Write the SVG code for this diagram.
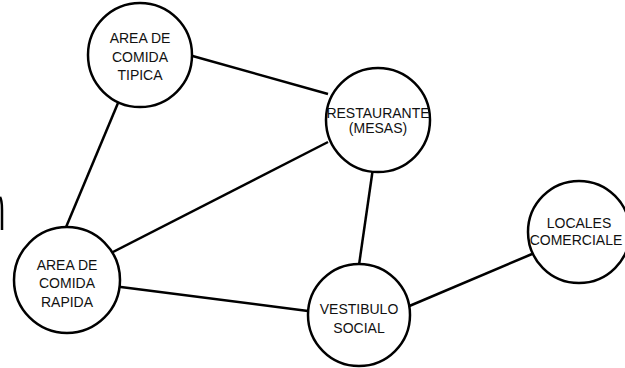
<svg xmlns="http://www.w3.org/2000/svg" width="625" height="368" viewBox="0 0 625 368">
<style>
.n{fill:#fff;stroke:#000;stroke-width:2.5}
.e{stroke:#000;stroke-width:2.5;fill:none}
text{font-family:"Liberation Sans",Arial,sans-serif;font-size:14px;fill:#111;text-anchor:middle}
</style>
<rect width="625" height="368" fill="#fff"/>
<g id="connectors">
<line class="e" x1="189" y1="55" x2="328" y2="94"/>
<line class="e" x1="118" y1="103" x2="64" y2="232"/>
<line class="e" x1="107" y1="255" x2="328" y2="142"/>
<line class="e" x1="113" y1="286" x2="308" y2="311"/>
<line class="e" x1="373" y1="168" x2="359" y2="265"/>
<line class="e" x1="407" y1="307" x2="532" y2="254"/>
<path class="e" d="M0,197 Q2,200 2,210 L2,230"/>
</g>
<g id="tipica">
<circle class="n" cx="140" cy="55" r="52"/>
<text x="140" y="43">AREA DE</text>
<text x="140" y="62">COMIDA</text>
<text x="140" y="80">TIPICA</text>
</g>
<g id="restaurante">
<circle class="n" cx="378" cy="120" r="52"/>
<text x="378" y="118">RESTAURANTE</text>
<text x="378" y="133">(MESAS)</text>
</g>
<g id="locales">
<circle class="n" cx="579" cy="232" r="51"/>
<text x="579" y="228">LOCALES</text>
<text x="576" y="245">COMERCIALE</text>
</g>
<g id="rapida">
<circle class="n" cx="67" cy="280" r="53"/>
<text x="67" y="270">AREA DE</text>
<text x="67" y="288">COMIDA</text>
<text x="67" y="307">RAPIDA</text>
</g>
<g id="vestibulo">
<circle class="n" cx="359" cy="315" r="51"/>
<text x="359" y="314">VESTIBULO</text>
<text x="359" y="333">SOCIAL</text>
</g>
</svg>
